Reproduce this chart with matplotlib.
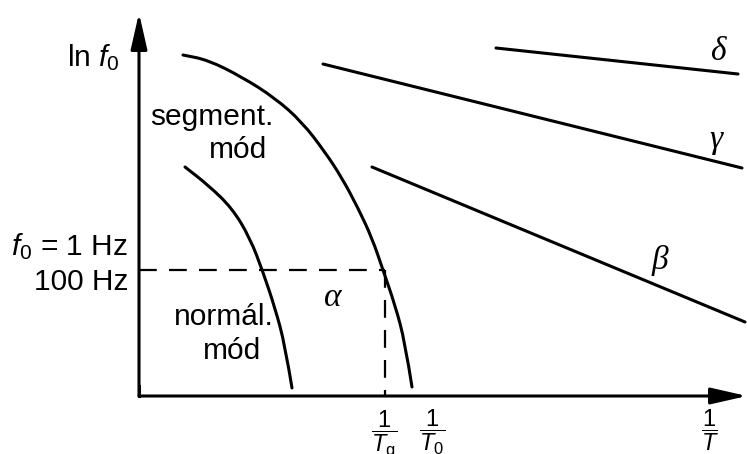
#!/usr/bin/env python3
# -*- coding: utf-8 -*-
"""
弛豫图：ln f0 对 1/T，α、β、γ、δ 过程示意
"""

import matplotlib
matplotlib.use('Agg')
import matplotlib.pyplot as plt
from matplotlib.path import Path
from matplotlib.patches import PathPatch

matplotlib.rcParams['font.family'] = ['Liberation Sans', 'DejaVu Sans']
matplotlib.rcParams['mathtext.fontset'] = 'custom'
matplotlib.rcParams['mathtext.rm'] = 'Liberation Sans'
matplotlib.rcParams['mathtext.it'] = 'Liberation Sans:italic'

# α 过程（segment. mód）曲线
alpha_x = [44, 69, 103, 136, 163, 186, 203, 219, 233, 244, 256, 266, 273]
alpha_y = [341, 336, 319, 298, 274, 244, 218, 188, 158, 126, 91, 54, 9]

# normál. mód 曲线
normal_x = [46, 69, 93, 111, 124, 136, 146, 153]
normal_y = [229, 211, 188, 158, 124, 88, 51, 8]

# β、γ、δ 直线（起点, 终点）
beta_x = [233, 606]
beta_y = [229, 74]
gamma_x = [184, 603]
gamma_y = [332, 228]
delta_x = [357, 599]
delta_y = [348, 322]

# 1 Hz / 100 Hz 水平与 1/Tg
ref_level = 126
tg_pos = 246

# 横轴刻度
tick_x = [245, 293, 571]
tick_labels = [r'$\dfrac{1}{T_\mathrm{g}}$', r'$\dfrac{1}{T_0}$', r'$\dfrac{1}{T}$']

# 坐标轴范围（原点在两轴交点）
x_min, x_max = -139, 608
y_min, y_max = -58, 396
y_tip = 383


def smooth_path(xs, ys):
    """用二次贝塞尔曲线连接各点（中间点作为控制点）"""
    pts = list(zip(xs, ys))
    verts = [pts[0]]
    codes = [Path.MOVETO]
    first_mid = ((pts[0][0] + pts[1][0]) / 2, (pts[0][1] + pts[1][1]) / 2)
    verts.append(first_mid)
    codes.append(Path.LINETO)
    for i in range(1, len(pts) - 1):
        nxt = pts[i + 1] if i + 1 == len(pts) - 1 else (
            (pts[i][0] + pts[i + 1][0]) / 2, (pts[i][1] + pts[i + 1][1]) / 2)
        verts += [pts[i], nxt]
        codes += [Path.CURVE3, Path.CURVE3]
    return Path(verts, codes)


def main():
    fig = plt.figure(figsize=(7.47, 4.54), dpi=100)
    ax = fig.add_axes([0, 0, 1, 1])
    ax.set_xlim(x_min, x_max)
    ax.set_ylim(y_min, y_max)
    ax.axis('off')

    curve_kw = dict(color='black', lw=2.2, solid_capstyle='round', solid_joinstyle='round')

    # 坐标轴与箭头
    arrow_kw = dict(arrowstyle='-|>,head_length=2.2,head_width=0.5', lw=2.2,
                    color='black', mutation_scale=10, shrinkA=0, shrinkB=0)
    ax.annotate('', xy=(0, y_tip), xytext=(0, 0), arrowprops=arrow_kw)
    ax.annotate('', xy=(x_max, 0), xytext=(0, 0), arrowprops=arrow_kw)
    ax.plot([0, 0], [0, 10], color='black', lw=2.2, solid_capstyle='projecting')

    # 曲线
    for xs, ys in [(alpha_x, alpha_y), (normal_x, normal_y)]:
        ax.add_patch(PathPatch(smooth_path(xs, ys), fill=False, edgecolor='black',
                               lw=2.2, capstyle='round', joinstyle='round'))

    # 直线
    ax.plot(beta_x, beta_y, **curve_kw)
    ax.plot(gamma_x, gamma_y, **curve_kw)
    ax.plot(delta_x, delta_y, **curve_kw)

    # 虚线
    dash_kw = dict(color='black', lw=1.6, dashes=(8, 5.5))
    ax.plot([0, tg_pos], [ref_level, ref_level], **dash_kw)
    ax.plot([tg_pos, tg_pos], [ref_level, 0], **dash_kw)

    # 文本标注
    fs = 21.5
    ax.text(-19, 330, r'ln $f_0$', fontsize=fs, ha='right', va='baseline')
    ax.text(73, 271, 'segment.', fontsize=fs, ha='center', va='baseline')
    ax.text(99, 238, 'mód', fontsize=fs, ha='center', va='baseline')
    ax.text(-11, 141, r'$f_0$ = 1 Hz', fontsize=fs, ha='right', va='baseline')
    ax.text(-11, 106, '100 Hz', fontsize=fs, ha='right', va='baseline')
    ax.text(85, 71, 'normál.', fontsize=fs, ha='center', va='baseline')
    ax.text(93.5, 37, 'mód', fontsize=fs, ha='center', va='baseline')

    greek_kw = dict(fontsize=24, family='Liberation Serif', style='italic',
                    ha='center', va='center')
    ax.text(194, 98, 'α', **greek_kw)
    ax.text(521, 136, 'β', **greek_kw)
    ax.text(577, 256, 'γ', **greek_kw)
    ax.text(579, 344, 'δ', **greek_kw)

    for x, label in zip(tick_x, tick_labels):
        ax.text(x, -12, label, fontsize=17, ha='center', va='top')

    fig.savefig('out.png', dpi=100)


if __name__ == "__main__":
    main()
